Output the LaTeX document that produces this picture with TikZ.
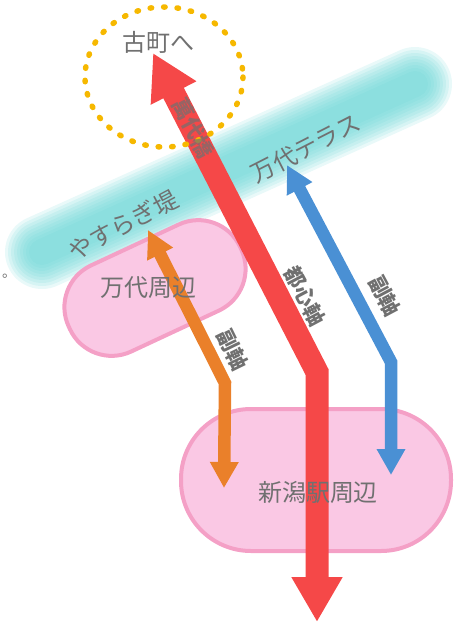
\documentclass[tikz,border=0pt]{standalone}
\usepackage{fontspec}
\newfontfamily\jp{Noto Sans CJK JP}
\usetikzlibrary{arrows.meta}
\usetikzlibrary{positioning}

\definecolor{axisred}{RGB}{245,72,72}
\definecolor{axisblue}{RGB}{74,144,212}
\definecolor{axisorange}{RGB}{234,128,42}
\definecolor{blobfill}{RGB}{250,200,228}
\definecolor{blobline}{RGB}{244,160,198}
\definecolor{bandteal}{RGB}{100,212,212}
\definecolor{dotyellow}{RGB}{246,184,0}
\definecolor{labelgray}{RGB}{112,112,112}

\tikzset{
  blob/.style={draw=blobline, fill=blobfill, line width=4pt},
  lbl/.style={text=labelgray, font=\jp\fontsize{24}{24}\selectfont, inner sep=0pt},
  axislbl/.style={text=labelgray, font=\jp\bfseries\fontsize{21}{21}\selectfont, inner sep=0pt},
  mainaxis/.style={draw=axisred, line width=23pt,
    {Triangle[width=48pt,length=45pt]}-{Triangle[width=48pt,length=45pt]}},
  subaxis/.style={line width=12.5pt,
    {Triangle[width=27pt,length=27pt]}-{Triangle[width=27pt,length=26pt]}}
}

\begin{document}
\begin{tikzpicture}[x=1pt,y=-1pt]
\useasboundingbox (0,0) rectangle (454,625);
% the river bank band, soft edged
\coordinate (bandL) at (42,252);
\coordinate (bandR) at (415,84);
\foreach \w in {74,68,...,26}
  \draw[bandteal, line width=\w pt, opacity=0.14, line cap=round] (bandL) -- (bandR);
% the two districts
\node[blob, minimum width=189pt, minimum height=95pt, rounded corners=46pt, rotate=25] (bandai) at (155,288) {};
\node[blob, minimum width=270pt, minimum height=142pt, rounded corners=70pt] (eki) at (316,480) {};
% axes
\coordinate (redtop) at (153,53);
\coordinate (redbend) at (317,372);
\coordinate (redbot) at (317,622);
\coordinate (bluetop) at (287,165);
\coordinate (bluebend) at (391,362);
\coordinate (bluebot) at (391,475);
\coordinate (oratop) at (148,230);
\coordinate (orabend) at (225,383);
\coordinate (orabot) at (224,488);
\draw[subaxis, draw=axisorange] (oratop) -- (orabend) -- (orabot);
\draw[subaxis, draw=axisblue] (bluetop) -- (bluebend) -- (bluebot);
\draw[mainaxis] (redtop) -- (redbend) -- (redbot);
% Furumachi circle
\draw[dotyellow, line width=5.5pt, line cap=round, dash pattern=on 1.5pt off 12pt]
  (164,77) ellipse [x radius=79, y radius=70];
%% labels
\node[lbl] (furu) at (158,42) {古町へ};
\node[axislbl, opacity=0.7, rotate=-62] (hashi) at (193,128) {萬代橋};
\node[lbl, rotate=27] (terrace) at (306,148) {万代テラス};
\node[lbl, rotate=28] (yasuragi) at (123,225) {やすらぎ堤};
\node[lbl] at (148,288) {万代周辺};
\node[lbl] at (318,492) {新潟駅周辺};
\node[axislbl, rotate=-62] (toshin) at (305,296) {都心軸};
\node[axislbl, rotate=-62] (fuku1) at (385,296) {副軸};
\node[axislbl, rotate=-64] (fuku2) at (233,350) {副軸};
\node[lbl, font=\jp\fontsize{14}{14}\selectfont] at (9,276) {。};
\end{tikzpicture}
\end{document}
